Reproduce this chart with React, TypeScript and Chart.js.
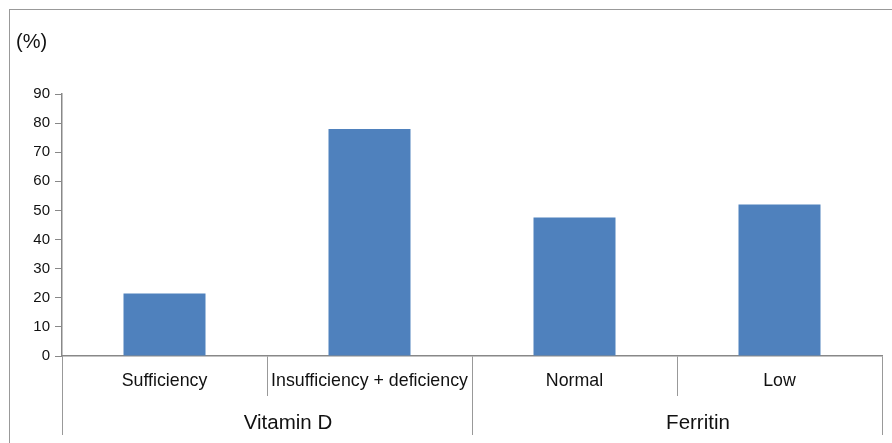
import React, { useEffect, useRef } from 'react';
import { Chart, registerables } from 'chart.js';

Chart.register(...registerables);

// ---- data ----
const categories = ['Sufficiency', 'Insufficiency + deficiency', 'Normal', 'Low'];
const values = [21.5, 78, 47.6, 52];
const groupLabels = ['Vitamin D', 'Ferritin'];
const yMin = 0;
const yMax = 90;
const yStep = 10;
const yUnit = '(%)';

const FONT = "'Liberation Sans', Arial, Helvetica, sans-serif";
const BAR = '#4F81BD';
const AXIS = '#888888';
const SEP = '#999999';
const TEXT = '#111111';

export default function App() {
  const ref = useRef<HTMLCanvasElement | null>(null);

  useEffect(() => {
    if (!ref.current) return;
    const chart = new Chart(ref.current, {
      type: 'bar',
      data: {
        labels: categories,
        datasets: [
          {
            data: values,
            backgroundColor: BAR,
            borderWidth: 0,
            barPercentage: 0.4,
            categoryPercentage: 1,
            xAxisID: 'x',
            yAxisID: 'y',
          },
        ],
      },
      options: {
        responsive: false,
        animation: false,
        devicePixelRatio: 1,
        layout: { padding: { left: 0, top: 94, right: 10, bottom: 8 } },
        plugins: { legend: { display: false }, tooltip: { enabled: false }, title: { display: false } },
        scales: {
          x: {
            type: 'category',
            position: 'bottom',
            offset: true,
            weight: 0,
            grid: { offset: true, drawOnChartArea: false, drawTicks: true, tickLength: 40, color: SEP, lineWidth: 1 },
            border: { display: true, color: AXIS, width: 1.5 },
            ticks: {
              font: { family: FONT, size: 17.8, lineHeight: 1.2 },
              color: TEXT,
              padding: -25.2,
              maxRotation: 0,
              minRotation: 0,
              autoSkip: false,
            },
            afterFit: (s: any) => {
              s.height = 40;
            },
          },
          x2: {
            type: 'category',
            labels: groupLabels,
            position: 'bottom',
            offset: true,
            weight: 1,
            grid: { offset: true, drawOnChartArea: false, drawTicks: true, tickLength: 39, color: SEP, lineWidth: 1 },
            border: { display: false },
            ticks: {
              font: { family: FONT, size: 20.5, lineHeight: 1.2 },
              color: TEXT,
              padding: -24.3,
              labelOffset: 21,
              maxRotation: 0,
              minRotation: 0,
              autoSkip: false,
            },
            afterFit: (s: any) => {
              s.height = 39;
            },
          },
          y: {
            min: yMin,
            max: yMax,
            ticks: { stepSize: yStep, font: { family: FONT, size: 15 }, color: TEXT, padding: 5 },
            grid: { drawOnChartArea: false, drawTicks: true, tickLength: 7, color: AXIS, lineWidth: 1 },
            border: { display: true, color: AXIS, width: 1.5 },
            afterFit: (s: any) => {
              s.width = 62;
            },
          },
        },
      },
    } as any);
    return () => chart.destroy();
  }, []);

  return (
    <div style={{ position: 'fixed', left: 0, top: 0, width: 892, height: 443, overflow: 'hidden', background: '#fff' }}>
      <div
        style={{
          position: 'absolute',
          left: 9,
          top: 9,
          width: 900,
          height: 500,
          borderLeft: '1px solid #999',
          borderTop: '1px solid #999',
        }}
      />
      <canvas ref={ref} width={892} height={443} style={{ position: 'absolute', left: 0, top: 0, width: 892, height: 443 }} />
      <div
        style={{
          position: 'absolute',
          left: 16,
          top: 31,
          fontFamily: FONT,
          fontSize: 20,
          lineHeight: '20px',
          color: TEXT,
        }}
      >
        {yUnit}
      </div>
    </div>
  );
}
